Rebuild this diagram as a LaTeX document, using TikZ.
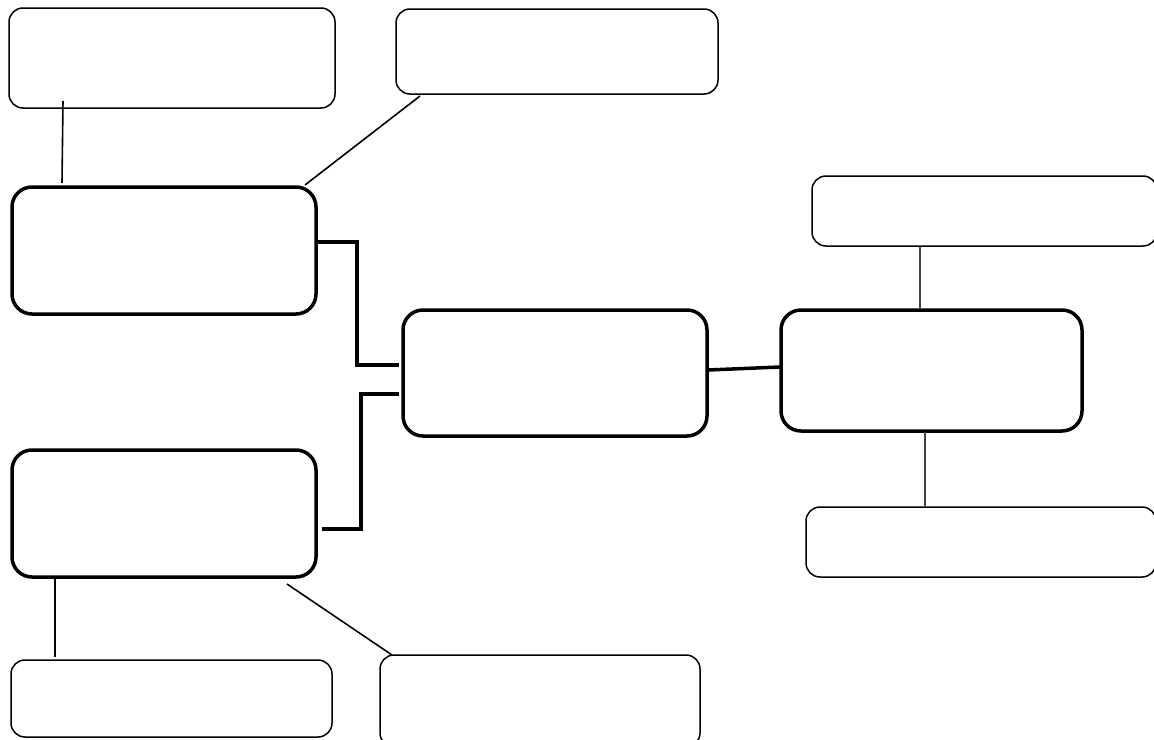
\documentclass[tikz,border=0pt]{standalone}
\begin{document}
\begin{tikzpicture}[x=1pt,y=-1pt,
  thinbox/.style={draw=black,line width=1.5pt,rounded corners=14pt,anchor=north west,inner sep=0pt,outer sep=0pt,fill=white},
  thickbox/.style={draw=black,line width=3.5pt,rounded corners=20pt,anchor=north west,inner sep=0pt,outer sep=0pt,fill=white},
  thinline/.style={draw=black,line width=1.6pt},
  hairline/.style={draw=black!75,line width=1.1pt},
  thickline/.style={draw=black,line width=3.5pt}]
\useasboundingbox (0,0) rectangle (1154,739);
% thin boxes
\node[thinbox,minimum width=326pt,minimum height=100pt] (b1) at (9,8) {};
\node[thinbox,minimum width=322pt,minimum height=85pt] (b2) at (396,9) {};
\node[thinbox,minimum width=345pt,minimum height=70pt] (b6) at (812,176) {};
\node[thinbox,minimum width=350pt,minimum height=70pt] (b7) at (806,507) {};
\node[thinbox,minimum width=321pt,minimum height=77pt] (b9) at (11,660) {};
\node[thinbox,minimum width=320pt,minimum height=92pt] (b10) at (380,655) {};
% thick boxes
\node[thickbox,minimum width=304pt,minimum height=127pt] (b3) at (12,187) {};
\node[thickbox,minimum width=304pt,minimum height=126pt] (b4) at (403,310) {};
\node[thickbox,minimum width=301pt,minimum height=121pt] (b5) at (781,310) {};
\node[thickbox,minimum width=304pt,minimum height=127pt] (b8) at (12,450) {};
% connector end points
\coordinate (c1a) at (63,101);
\coordinate (c1b) at (62,183);
\coordinate (c2a) at (420,96);
\coordinate (c2b) at (305,185);
\coordinate (e1a) at (317,242);
\coordinate (e1b) at (399,365);
\coordinate (e2a) at (322,529);
\coordinate (e2b) at (399,394);
\coordinate (c3a) at (708,370);
\coordinate (c3b) at (780,367);
\coordinate (c4a) at (920,247);
\coordinate (c4b) at (920,309);
\coordinate (c5a) at (925,432);
\coordinate (c5b) at (925,506);
\coordinate (c6a) at (55,578);
\coordinate (c6b) at (55,657);
\coordinate (c7a) at (287,584);
\coordinate (c7b) at (392,655);
% connectors
\draw[thinline] (c1a) -- (c1b);
\draw[thinline] (c2a) -- (c2b);
\draw[thickline] (e1a) -- (357,242) -- (357,365) -- (e1b);
\draw[thickline] (e2a) -- (361,529) -- (361,394) -- (e2b);
\draw[thickline] (c3a) -- (c3b);
\draw[hairline] (c4a) -- (c4b);
\draw[hairline] (c5a) -- (c5b);
\draw[thinline] (c6a) -- (c6b);
\draw[thinline] (c7a) -- (c7b);
\end{tikzpicture}
\end{document}
